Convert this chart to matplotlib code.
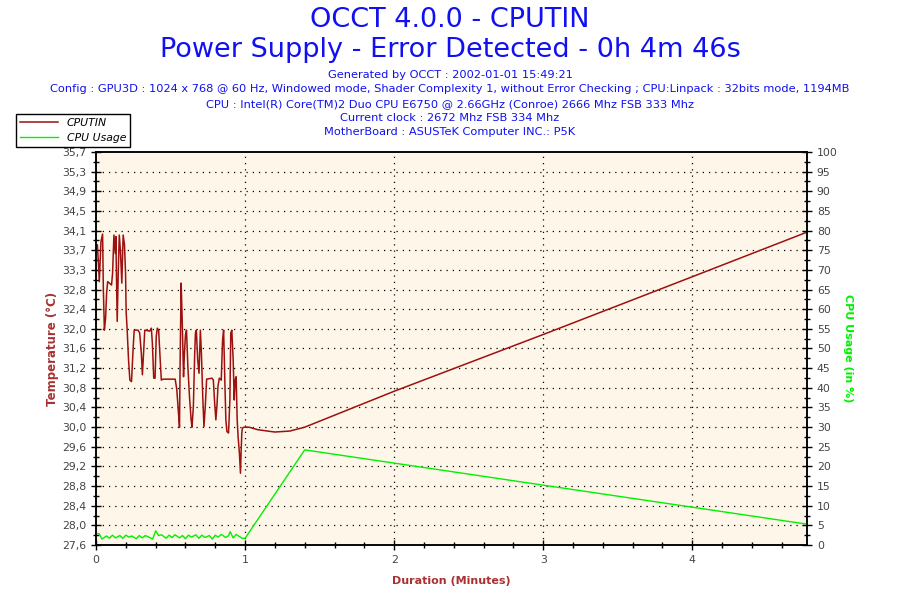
import matplotlib
matplotlib.use("Agg")
import matplotlib.pyplot as plt
from matplotlib.ticker import MultipleLocator, FixedLocator
import numpy as np

# Temperature readings (minutes, degrees C)
temp_time = [0.0, 0.009, 0.016, 0.022, 0.033, 0.044, 0.049, 0.056, 0.064, 0.071,
             0.078, 0.104, 0.111, 0.120, 0.129, 0.133, 0.142, 0.149, 0.156, 0.164,
             0.173, 0.182, 0.191, 0.198, 0.202, 0.209, 0.218, 0.227, 0.238, 0.249,
             0.256, 0.282, 0.293, 0.304, 0.311, 0.320, 0.327, 0.360, 0.371, 0.378,
             0.387, 0.396, 0.404, 0.411, 0.420, 0.427, 0.438, 0.449, 0.531, 0.542,
             0.553, 0.560, 0.564, 0.571, 0.578, 0.587, 0.593, 0.600, 0.607, 0.616,
             0.627, 0.638, 0.644, 0.653, 0.662, 0.667, 0.673, 0.682, 0.691, 0.700,
             0.707, 0.716, 0.724, 0.733, 0.742, 0.778, 0.787, 0.796, 0.804, 0.811,
             0.818, 0.827, 0.840, 0.849, 0.856, 0.864, 0.871, 0.878, 0.889, 0.898,
             0.904, 0.911, 0.920, 0.927, 0.933, 0.940, 0.947, 0.953, 0.962, 0.969,
             0.973, 0.978, 0.982, 0.993, 1.027, 1.049, 1.082, 1.15, 1.2, 1.3,
             1.4, 2.0, 3.0, 4.0, 4.77]
temp_vals = [33.77, 33.77, 33.39, 33.01, 33.83, 33.99, 32.87, 32.01, 32.25, 32.77,
             33.01, 32.94, 33.18, 33.97, 33.59, 33.94, 32.19, 33.18, 33.97, 33.63,
             32.98, 33.97, 33.77, 33.18, 32.39, 32.01, 31.40, 30.98, 30.95, 31.64,
             32.01, 32.01, 31.95, 31.53, 31.09, 31.60, 32.01, 31.99, 32.05, 31.74,
             31.02, 31.02, 31.88, 32.05, 32.01, 31.60, 30.98, 31.00, 31.00, 30.78,
             30.30, 30.01, 31.33, 32.98, 32.22, 31.05, 31.53, 31.91, 32.01, 31.26,
             30.64, 30.16, 30.01, 30.44, 31.53, 31.95, 32.01, 31.40, 31.12, 32.01,
             31.53, 30.64, 30.02, 30.44, 31.00, 31.02, 30.98, 30.50, 30.16, 30.44,
             30.85, 31.02, 30.98, 31.81, 32.01, 30.98, 30.16, 29.92, 29.89, 30.57,
             31.95, 32.01, 31.40, 30.57, 30.98, 31.05, 30.16, 29.82, 29.47, 29.06,
             29.47, 29.89, 29.99, 30.01, 30.01, 29.99, 29.96, 29.93, 29.91, 29.93,
             30.01, 30.75, 31.92, 33.11, 34.03]

# CPU usage (minutes, %)
cpu_time = [0.0, 0.02, 0.04, 0.07, 0.09, 0.11, 0.13, 0.16, 0.18, 0.20,
            0.22, 0.24, 0.27, 0.29, 0.31, 0.33, 0.36, 0.38, 0.40, 0.42,
            0.44, 0.47, 0.49, 0.51, 0.53, 0.56, 0.58, 0.60, 0.62, 0.64,
            0.67, 0.69, 0.71, 0.73, 0.76, 0.78, 0.80, 0.82, 0.84, 0.87,
            0.89, 0.90, 0.92, 0.94, 0.96, 0.98, 1.0, 1.4, 4.77]
cpu_vals = [2.9, 2.9, 1.5, 2.3, 1.7, 2.5, 1.8, 2.4, 1.7, 2.5,
            2.0, 2.3, 1.6, 2.4, 1.8, 2.4, 1.9, 1.5, 3.6, 2.4,
            2.6, 1.7, 2.5, 1.9, 2.6, 1.8, 2.4, 1.6, 2.5, 2.0,
            2.6, 1.7, 2.5, 1.9, 2.4, 1.5, 2.5, 2.0, 2.7, 1.9,
            2.4, 3.4, 1.8, 2.7, 2.2, 1.7, 1.7, 24.2, 5.3]

temp_ticklabels = ["27,6", "28,0", "28,4", "28,8", "29,2", "29,6", "30,0",
                   "30,4", "30,8", "31,2", "31,6", "32,0", "32,4", "32,8",
                   "33,3", "33,7", "34,1", "34,5", "34,9", "35,3", "35,7"]

title_lines = ["OCCT 4.0.0 - CPUTIN",
               "Power Supply - Error Detected - 0h 4m 46s"]
info_lines = ["Generated by OCCT : 2002-01-01 15:49:21",
              "Config : GPU3D : 1024 x 768 @ 60 Hz, Windowed mode, Shader Complexity 1, "
              "without Error Checking ; CPU:Linpack : 32bits mode, 1194MB",
              "CPU : Intel(R) Core(TM)2 Duo CPU E6750 @ 2.66GHz (Conroe) 2666 Mhz FSB 333 Mhz",
              "Current clock : 2672 Mhz FSB 334 Mhz",
              "MotherBoard : ASUSTeK Computer INC.: P5K"]

t_lo, t_hi = 27.582, 35.682
x_max = 4.77
temp_color = "#9c1010"
cpu_color = "#00f000"
label_red = "#a83232"
tick_grey = "#444444"

fig = plt.figure(figsize=(9, 6), dpi=100)
ax1 = fig.add_axes([0.1067, 0.0917, 0.79, 0.655])
ax1.set_facecolor("#fef7e9")
ax2 = ax1.twinx()

ax1.plot(temp_time, temp_vals, color=temp_color, lw=1.1, label="CPUTIN")
ax2.plot(cpu_time, cpu_vals, color=cpu_color, lw=1.0, label="CPU Usage")

ax1.set_xlim(0, x_max)
ax1.set_ylim(t_lo, t_hi)
ax2.set_ylim(0, 100)

major_y = np.linspace(t_lo, t_hi, 21)
ax1.yaxis.set_major_locator(FixedLocator(major_y))
ax1.yaxis.set_minor_locator(FixedLocator((major_y[:-1] + major_y[1:]) / 2))
ax1.set_yticklabels(temp_ticklabels)
ax1.xaxis.set_major_locator(MultipleLocator(1))
ax1.xaxis.set_minor_locator(MultipleLocator(0.2))
ax2.yaxis.set_major_locator(MultipleLocator(5))
ax2.yaxis.set_minor_locator(MultipleLocator(2.5))

for ax in (ax1, ax2):
    ax.tick_params(which="major", direction="inout", length=7, width=1,
                   labelsize=7.8, labelcolor=tick_grey)
    ax.tick_params(which="minor", direction="inout", length=5, width=1)
    for sp in ax.spines.values():
        sp.set_linewidth(1.1)
        sp.set_color("black")

# dotted grid
for v in major_y[1:-1]:
    ax1.axhline(v, color="black", lw=0.9, ls=(0, (1, 4)), zorder=0.5)
for v in range(1, 5):
    ax1.axvline(v, color="black", lw=0.9, ls=(0, (1, 4)), zorder=0.5)

ax1.set_xlabel("Duration (Minutes)", color=label_red, fontsize=8,
               fontweight="bold", labelpad=8)
ax1.set_ylabel("Temperature (°C)", color=label_red, fontsize=8.5,
               fontweight="bold", labelpad=2)
ax2.set_ylabel("CPU Usage (in %)", color=cpu_color, fontsize=8,
               fontweight="bold", rotation=270, labelpad=11)

fig.text(0.5, 1 - 20 / 600, title_lines[0], ha="center", va="center",
         fontsize=19.5, color="#1010f0")
fig.text(0.5, 1 - 50 / 600, title_lines[1], ha="center", va="center",
         fontsize=19.5, color="#1010f0")
for i, line in enumerate(info_lines):
    fig.text(0.5, 1 - (75 + i * 14.3) / 600, line, ha="center", va="center",
             fontsize=8.2, color="#1010f0")

h1, l1 = ax1.get_legend_handles_labels()
h2, l2 = ax2.get_legend_handles_labels()
leg = fig.legend(h1 + h2, l1 + l2, loc="upper left",
                 bbox_to_anchor=(0.018, 1 - 114 / 600), fancybox=False,
                 edgecolor="black", framealpha=1, borderaxespad=0,
                 handlelength=3.5, borderpad=0.35,
                 labelspacing=0.5, prop={"style": "italic", "size": 7.8})
leg.get_frame().set_linewidth(1.0)

fig.savefig("out.png", dpi=100, facecolor="white")
